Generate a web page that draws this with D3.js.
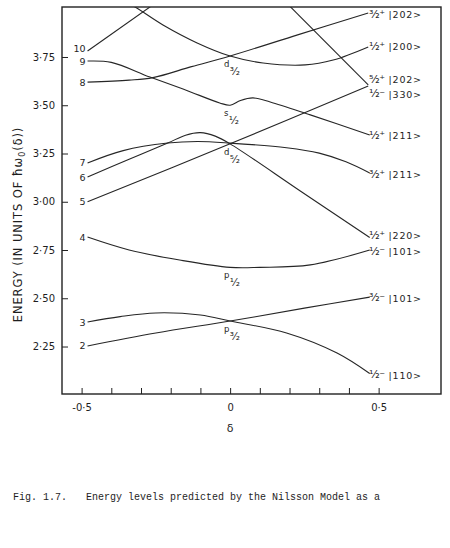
<!DOCTYPE html>
<html>
<head>
<meta charset="utf-8">
<script src="https://cdn.jsdelivr.net/npm/d3@7.9.0/dist/d3.min.js"></script>
<style>
  html, body { margin: 0; padding: 0; background: #fff; }
  svg { display: block; }
  text { fill: #1e1e1e; }
</style>
</head>
<body>
<div id="chart"></div>
<script>
// === Data: [deformation δ, energy in units of ħω0(δ)] ===
const level2   = [[-0.48, 2.253], [-0.25, 2.320], [0, 2.382], [0.25, 2.449], [0.47, 2.506]];
const level3   = [[-0.48, 2.377], [-0.37, 2.405], [-0.25, 2.424], [-0.10, 2.413], [0, 2.382], [0.19, 2.320], [0.36, 2.216], [0.47, 2.110]];
const level4   = [[-0.48, 2.817], [-0.34, 2.750], [-0.17, 2.698], [0, 2.660], [0.10, 2.660], [0.27, 2.673], [0.47, 2.750]];
const level5   = [[-0.48, 3.000], [0, 3.300], [0.465, 3.600]];
const level6   = [[-0.48, 3.128], [-0.34, 3.220], [-0.21, 3.304], [-0.15, 3.345], [-0.10, 3.358], [-0.05, 3.340], [0, 3.300], [0.24, 3.052], [0.47, 2.815]];
const level7   = [[-0.48, 3.201], [-0.36, 3.265], [-0.21, 3.304], [-0.11, 3.312], [0, 3.304], [0.19, 3.280], [0.30, 3.252], [0.39, 3.207], [0.47, 3.149]];
const level8   = [[-0.48, 3.620], [-0.34, 3.630], [-0.26, 3.643], [-0.13, 3.700], [0, 3.755], [0.23, 3.866], [0.465, 3.978]];
const level9   = [[-0.48, 3.729], [-0.40, 3.722], [-0.27, 3.646], [-0.15, 3.579], [-0.035, 3.512], [0, 3.500], [0.035, 3.525], [0.077, 3.538], [0.135, 3.517], [0.27, 3.450], [0.47, 3.346]];
const level10  = [[-0.48, 3.781], [-0.20, 4.085]];
const level200 = [[-0.36, 4.040], [-0.32, 4.009], [-0.226, 3.916], [-0.111, 3.823], [0, 3.755], [0.111, 3.719], [0.253, 3.709], [0.347, 3.734], [0.465, 3.802]];
const level330 = [[0.19, 4.030], [0.465, 3.605]];

const allLevels = [level2, level3, level4, level5, level6, level7, level8, level9, level10, level200, level330];

// numbered levels on the left (prolate side)
const leftNums   = ["2", "3", "4", "5", "6", "7", "8", "9", "10"];
const leftLevels = [level2, level3, level4, level5, level6, level7, level8, level9, level10];

// asymptotic quantum numbers on the right: Ω, parity, |N nz Λ>, energy where the label sits
const rightOmega = ["³⁄₂", "¹⁄₂", "⁵⁄₂", "¹⁄₂", "¹⁄₂", "³⁄₂", "¹⁄₂", "¹⁄₂", "³⁄₂", "¹⁄₂"];
const rightSign  = ["⁺", "⁺", "⁺", "⁻", "⁺", "⁺", "⁺", "⁻", "⁻", "⁻"];
const rightKet   = ["|202>", "|200>", "|202>", "|330>", "|211>", "|211>", "|220>", "|101>", "|101>", "|110>"];
const rightE     = [3.968, 3.802, 3.631, 3.558, 3.341, 3.139, 2.823, 2.740, 2.501, 2.102];

// spherical shell-model states at δ = 0
const shellL = ["d", "s", "d", "p", "p"];
const shellJ = ["³⁄₂", "¹⁄₂", "⁵⁄₂", "¹⁄₂", "³⁄₂"];
const shellE = [3.755, 3.500, 3.300, 2.660, 2.382];

// axis ticks
const xTicks = [-0.5, -0.4, -0.3, -0.2, -0.1, 0, 0.1, 0.2, 0.3, 0.4, 0.5];
const xTickLabels = new Map([[-0.5, "-0·5"], [0, "0"], [0.5, "0·5"]]);
const yTicks = [2.25, 2.50, 2.75, 3.00, 3.25, 3.50, 3.75];

// === Chart Dimensions ===
const W = 450, H = 548;
const plot = { left: 62, right: 441, top: 7, bottom: 394 };

const svg = d3.select("#chart").append("svg")
    .attr("width", W).attr("height", H)
    .style("font-family", "'DejaVu Sans', sans-serif");

const x = d3.scaleLinear().domain([-0.566, 0.710]).range([plot.left, plot.right]);
const y = d3.scaleLinear().domain([2.004, 4.009]).range([plot.bottom, plot.top]);

svg.append("clipPath").attr("id", "clip")
  .append("rect")
    .attr("x", plot.left).attr("y", plot.top)
    .attr("width", plot.right - plot.left).attr("height", plot.bottom - plot.top);

// === Axes (ticks point inward) ===
const xAxis = d3.axisBottom(x)
    .tickValues(xTicks)
    .tickSizeInner(-6).tickSizeOuter(0).tickPadding(10)
    .tickFormat(d => xTickLabels.get(Math.round(d * 10) / 10) || "");

const yAxis = d3.axisLeft(y)
    .tickValues(yTicks)
    .tickSizeInner(-6).tickSizeOuter(0).tickPadding(7)
    .tickFormat(d => d3.format(".2f")(d).replace(".", "·"));

const gx = svg.append("g").attr("transform", `translate(0,${plot.bottom})`).call(xAxis);
const gy = svg.append("g").attr("transform", `translate(${plot.left},0)`).call(yAxis);

[gx, gy].forEach(g => {
    g.attr("font-family", null);
    g.select(".domain").remove();
    g.selectAll(".tick line").attr("stroke", "#222").attr("stroke-width", 1);
    g.selectAll(".tick text").attr("font-size", 10).attr("fill", "#1e1e1e");
});

// frame
svg.append("rect")
    .attr("x", plot.left).attr("y", plot.top)
    .attr("width", plot.right - plot.left).attr("height", plot.bottom - plot.top)
    .attr("fill", "none").attr("stroke", "#222").attr("stroke-width", 1.4);

// axis titles
svg.append("text")
    .attr("x", x(0)).attr("y", 432)
    .attr("text-anchor", "middle").attr("font-size", 11)
    .text("δ");

const yTitle = svg.append("text")
    .attr("transform", `translate(22,${(plot.top + plot.bottom) / 2 + 24}) rotate(-90)`)
    .attr("text-anchor", "middle").attr("font-size", 11.5).attr("letter-spacing", 0.9);
yTitle.append("tspan").text("ENERGY (IN UNITS OF ħω");
yTitle.append("tspan").attr("font-size", 8).attr("dy", 3).text("0");
yTitle.append("tspan").attr("dy", -3).text("(δ))");

// === Energy levels ===
const line = d3.line()
    .x(d => x(d[0]))
    .y(d => y(d[1]))
    .curve(d3.curveCatmullRom.alpha(0.5));

svg.append("g").attr("clip-path", "url(#clip)")
  .selectAll("path")
  .data(allLevels)
  .join("path")
    .attr("d", line)
    .attr("fill", "none")
    .attr("stroke", "#262626")
    .attr("stroke-width", 1.1);

// left numbers
svg.append("g")
  .selectAll("text")
  .data(leftNums)
  .join("text")
    .attr("x", x(-0.48) - 2)
    .attr("y", (d, i) => y(leftLevels[i][0][1]) + (d === "10" ? 0.5 : 3.5))
    .attr("text-anchor", "end")
    .attr("font-size", 9.5)
    .text(d => d);

// right labels: Ω^π |N nz Λ>
rightKet.forEach((ket, i) => {
    const t = svg.append("text")
        .attr("x", x(0.468))
        .attr("y", y(rightE[i]) + 3);
    t.append("tspan").attr("font-size", 11).text(rightOmega[i]);
    t.append("tspan").attr("font-size", 11).attr("dx", -0.5).attr("dy", 0.5).text(rightSign[i]);
    t.append("tspan").attr("font-size", 9.5).attr("dx", 3.5).attr("dy", 0)
        .attr("letter-spacing", 0.8).text(ket);
});

// spherical labels at δ = 0
shellL.forEach((l, i) => {
    const t = svg.append("text")
        .attr("x", x(0) - 6)
        .attr("y", y(shellE[i]) + 10.7);
    t.append("tspan").attr("font-size", 8.5).text(l);
    t.append("tspan").attr("font-size", 10.5).attr("dx", 0.3).attr("dy", 8).text(shellJ[i]);
});

// caption
const caption = svg.append("g").style("font-family", "'Liberation Mono', monospace").attr("font-size", 10);
caption.append("text").attr("x", 13).attr("y", 500).text("Fig. 1.7.");
caption.append("text").attr("x", 86).attr("y", 500).text("Energy levels predicted by the Nilsson Model as a");
</script>
</body>
</html>
